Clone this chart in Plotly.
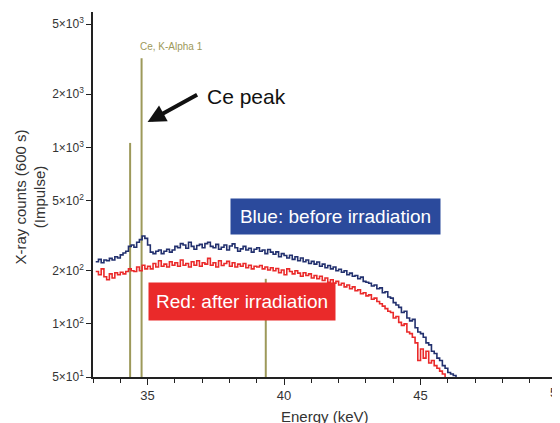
import plotly.graph_objects as go
import numpy as np

# Energy channels (keV)
energy_blue = [33.1, 33.2, 33.3, 33.4, 33.5, 33.6, 33.7, 33.8, 33.9, 34.0,
               34.1, 34.2, 34.3, 34.4, 34.5, 34.6, 34.7, 34.8, 34.9, 35.0,
               35.1, 35.2, 35.3, 35.4, 35.5, 35.6, 35.7, 35.8, 35.9, 36.0,
               36.1, 36.2, 36.3, 36.4, 36.5, 36.6, 36.7, 36.8, 36.9, 37.0,
               37.1, 37.2, 37.3, 37.4, 37.5, 37.6, 37.7, 37.8, 37.9, 38.0,
               38.1, 38.2, 38.3, 38.4, 38.5, 38.6, 38.7, 38.8, 38.9, 39.0,
               39.1, 39.2, 39.3, 39.4, 39.5, 39.6, 39.7, 39.8, 39.9, 40.0,
               40.1, 40.2, 40.3, 40.4, 40.5, 40.6, 40.7, 40.8, 40.9, 41.0,
               41.1, 41.2, 41.3, 41.4, 41.5, 41.6, 41.7, 41.8, 41.9, 42.0,
               42.1, 42.2, 42.3, 42.4, 42.5, 42.6, 42.7, 42.8, 42.9, 43.0,
               43.1, 43.2, 43.3, 43.4, 43.5, 43.6, 43.7, 43.8, 43.9, 44.0,
               44.1, 44.2, 44.3, 44.4, 44.5, 44.6, 44.7, 44.8, 44.9, 45.0,
               45.1, 45.2, 45.3, 45.4, 45.5, 45.6, 45.7, 45.8, 45.9, 46.0,
               46.1, 46.2, 46.3]
counts_blue = [225, 232, 222, 230, 228, 235, 230, 240, 236, 246,
               252, 258, 275, 280, 272, 290, 300, 315, 305, 280,
               255, 250, 258, 262, 250, 258, 265, 255, 262, 275,
               270, 285, 280, 268, 290, 275, 265, 278, 282, 270,
               285, 290, 275, 270, 282, 265, 272, 280, 262, 276,
               284, 270, 258, 266, 275, 262, 268, 255, 265, 270,
               258, 262, 250, 264, 255, 248, 256, 240, 250, 244,
               236, 245, 232, 240, 228, 236, 225, 230, 220, 226,
               218, 224, 212, 218, 208, 214, 205, 210, 200, 204,
               196, 200, 190, 194, 186, 188, 180, 184, 174, 172,
               170, 164, 166, 158, 160, 150, 152, 142, 140, 132,
               128, 124, 116, 118, 108, 104, 106, 95, 90, 88,
               84, 78, 76, 70, 68, 64, 62, 58, 56, 53,
               52, 51, 50]

energy_red = energy_blue[:129]
counts_red = [198, 190, 205, 185, 178, 192, 182, 195, 190, 196,
              192, 198, 205, 200, 198, 210, 200, 215, 205, 212,
              205, 220, 210, 228, 212, 218, 210, 225, 215, 222,
              212, 230, 215, 220, 210, 225, 215, 228, 212, 222,
              218, 235, 215, 222, 210, 228, 214, 220, 226, 212,
              222, 210, 218, 212, 220, 208, 215, 205, 212, 210,
              214, 205, 210, 202, 208, 200, 206, 195, 202, 190,
              205, 198, 192, 200, 194, 186, 195, 188, 192, 182,
              188, 180, 186, 176, 182, 172, 178, 170, 174, 166,
              170, 162, 166, 158, 162, 154, 156, 148, 150, 144,
              146, 138, 140, 134, 130, 126, 122, 118, 116, 108,
              110, 102, 98, 100, 90, 88, 84, 78, 62, 72,
              64, 70, 60, 62, 58, 56, 54, 52, 50]

# Element marker lines (keV, counts)
marker_energy = [34.36, 34.78, 39.33]
marker_height = [1060, 3200, 180]

y_tick_vals = [50, 100, 200, 500, 1000, 2000, 5000]
y_tick_text = ["5×10<sup>1</sup>", "1×10<sup>2</sup>", "2×10<sup>2</sup>", "5×10<sup>2</sup>",
               "1×10<sup>3</sup>", "2×10<sup>3</sup>", "5×10<sup>3</sup>"]
x_tick_vals = [35, 40, 45, 50]
x_tick_text = ["35", "40", "45", ""]

olive = "#9d995a"
font_family = "Liberation Sans, Arial, sans-serif"

fig = go.Figure()

for e, h in zip(marker_energy, marker_height):
    fig.add_trace(go.Scatter(x=[e, e], y=[40, h], mode="lines",
                             line=dict(color=olive, width=2), showlegend=False, hoverinfo="skip"))

fig.add_trace(go.Scatter(x=energy_red, y=counts_red, mode="lines", line_shape="hv",
                         line=dict(color="#ea2a2a", width=1.6), showlegend=False))
fig.add_trace(go.Scatter(x=energy_blue, y=counts_blue, mode="lines", line_shape="hv",
                         line=dict(color="#22306e", width=1.6), showlegend=False))

# The page body has an 8px default margin, so the figure is sized to fill the
# 560x423 window from that offset.
fig.update_layout(
    width=552, height=415,
    margin=dict(l=85, r=3, t=4, b=46, autoexpand=False),
    plot_bgcolor="white", paper_bgcolor="white",
    font=dict(family=font_family, size=12, color="#333333"),
    xaxis=dict(range=[33.0, 50], tickvals=x_tick_vals, ticktext=x_tick_text, ticks="outside",
               ticklen=6, tickwidth=1.2, automargin=False,
               tickcolor="#222", showline=True, linecolor="#222", linewidth=1.5, showgrid=False,
               zeroline=False, tickfont=dict(size=13, color="#333"),
               minor=dict(dtick=1, tick0=33, ticks="outside", ticklen=4, tickcolor="#222", tickwidth=1.2)),
    yaxis=dict(type="log", range=[np.log10(50), np.log10(5850)], tickvals=y_tick_vals,
               ticktext=y_tick_text, ticks="outside", ticklen=5, tickwidth=1.2, tickcolor="#222",
               showline=True, linecolor="#222", linewidth=1.5, showgrid=False, zeroline=False,
               automargin=False, tickfont=dict(size=12, color="#333")),
)

# last x tick label, cut off at the right edge as in the original
fig.add_annotation(x=50, y=0, xref="x", yref="paper", text="50", showarrow=False,
                   xanchor="center", yanchor="top", yshift=-6,
                   font=dict(size=13, color="#333"))

# axis titles
fig.add_annotation(x=0.5, y=0, xref="paper", yref="paper", xanchor="center", yanchor="top",
                   yshift=-29, showarrow=False, text="Energy (keV)",
                   font=dict(size=15, color="#333"))
fig.add_annotation(x=0, y=0.5, xref="paper", yref="paper", xanchor="center", yanchor="middle",
                   xshift=-63, yshift=-3, textangle=-90, showarrow=False,
                   text="X-ray counts (600 s)<br>(Impulse)", font=dict(size=15, color="#333"))

fig.add_annotation(x=34.72, y=np.log10(3200), text="Ce, K-Alpha 1", showarrow=False,
                   xanchor="left", yanchor="bottom", yshift=4, xshift=-2,
                   font=dict(size=10, color=olive))
fig.add_annotation(x=35.0, y=np.log10(1392), ax=51, ay=-28, text="", showarrow=True,
                   arrowhead=2, arrowsize=0.9, arrowwidth=4, arrowcolor="#111")
fig.add_annotation(x=37.2, y=np.log10(1810), text="Ce peak", showarrow=False, xanchor="left",
                   xshift=-3, yshift=5, font=dict(size=21, color="#111"))
fig.add_annotation(x=41.89, y=np.log10(406), text="Blue: before irradiation", showarrow=False,
                   bgcolor="#2b4a9c", width=205, height=31, borderpad=2,
                   font=dict(size=19, color="white"))
fig.add_annotation(x=38.46, y=np.log10(134), text="Red: after irradiation", showarrow=False,
                   bgcolor="#ea2a2a", width=182, height=33, borderpad=2,
                   font=dict(size=19, color="white"))

fig.write_html("out.html")
